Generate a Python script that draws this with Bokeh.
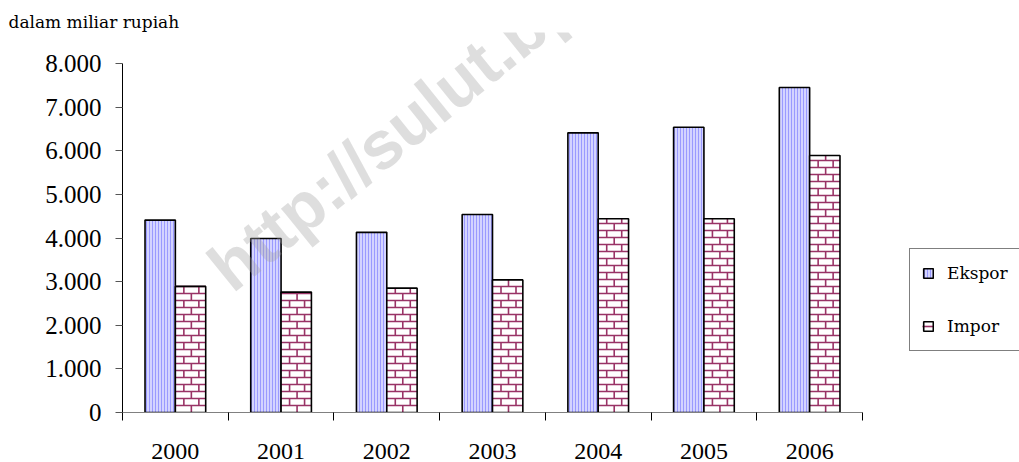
import numpy as np
from bokeh.plotting import figure
from bokeh.models import (Range1d, FixedTicker, Legend, LegendItem, Label, Title,
                          ColumnDataSource)
from bokeh.embed import file_html
from bokeh.resources import INLINE

# ---- data ----
years = ["2000", "2001", "2002", "2003", "2004", "2005", "2006"]
ekspor = [4410, 3990, 4130, 4540, 6410, 6540, 7450]
impor = [2890, 2760, 2850, 3040, 4440, 4440, 5890]
y_ticks = [0, 1000, 2000, 3000, 4000, 5000, 6000, 7000, 8000]
y_tick_labels = ["0", "1.000", "2.000", "3.000", "4.000", "5.000", "6.000", "7.000", "8.000"]
series_names = ["Ekspor", "Impor"]
unit_text = "dalam miliar rupiah"
watermark_text = "http://sulut.bps.go.id"

FONT = "Liberation Serif"
ANNOT_FONT = "DejaVu Serif"

# layout (pixels)
W, H = 1019, 462
LEFT, TOP, BOTTOM = 122, 32, 50
AX_RIGHT = 862          # where the category axis ends
Y_TOP_PX = 63           # pixel row of the 8.000 tick

n = len(years)
frame_w = W - LEFT
frame_h = H - TOP - BOTTOM
px_per_cat = (AX_RIGHT - LEFT) / n
x_end = frame_w / px_per_cat
y_max = y_ticks[-1]
px_per_unit = (H - BOTTOM - Y_TOP_PX) / y_max
y_end = frame_h / px_per_unit

idx = np.arange(n)
centers = idx + 0.5
bar_w = 0.287

x_e = centers - bar_w / 2
x_i = centers + bar_w / 2
src = ColumnDataSource(dict(x_e=x_e, x_i=x_i, ekspor=ekspor, impor=impor))

# brick pattern for the Impor bars, derived from each bar's extent
row_h = 7 / px_per_unit          # brick height in data units
brick_w = 15 / px_per_cat        # brick width in x units
offs = [16 / px_per_cat, 8.5 / px_per_cat]
bx0, by0, bx1, by1 = [], [], [], []
for xc, top in zip(x_i, impor):
    xl, xr = xc - bar_w / 2, xc + bar_w / 2
    k = 0
    while k * row_h < top:
        y0 = k * row_h
        y1 = min((k + 1) * row_h, top)
        if k > 0:
            bx0.append(xl); bx1.append(xr); by0.append(y0); by1.append(y0)
        xv = xl + offs[k % 2]
        while xv < xr - 1.5 / px_per_cat:
            bx0.append(xv); bx1.append(xv); by0.append(y0); by1.append(y1)
            xv += brick_w
        k += 1
brick_src = ColumnDataSource(dict(x0=bx0, y0=by0, x1=bx1, y1=by1))

title = Title(text=unit_text, text_font=ANNOT_FONT, text_font_size="17px",
              text_font_style="normal", text_color="black", align="left",
              offset=8 - LEFT, standoff=2)

p = figure(width=W, height=H, output_backend="svg", toolbar_location=None,
           x_range=Range1d(0, x_end), y_range=Range1d(0, y_end),
           min_border_left=LEFT, min_border_right=0, min_border_top=TOP,
           min_border_bottom=BOTTOM, title=title)
p.outline_line_color = None
p.xgrid.grid_line_color = None
p.ygrid.grid_line_color = None
p.background_fill_color = "white"
p.border_fill_color = "white"

r_e = p.vbar(x="x_e", top="ekspor", width=bar_w, bottom=0, source=src,
             fill_color="#d4d4ff", line_color="black", line_width=1.6,
             hatch_pattern="vertical_line", hatch_color="#9a9aff",
             hatch_scale=3, hatch_weight=1)
r_i_fill = p.vbar(x="x_i", top="impor", width=bar_w, bottom=0, source=src,
                  fill_color="white", line_color=None)
r_i_brick = p.segment(x0="x0", y0="y0", x1="x1", y1="y1", source=brick_src,
                      line_color="#993366", line_width=1.6)
r_i = p.vbar(x="x_i", top="impor", width=bar_w, bottom=0, source=src,
             fill_color=None, line_color="black", line_width=1.6)

# y axis
ya = p.yaxis[0]
ya.bounds = (0, y_max)
ya.ticker = FixedTicker(ticks=y_ticks, minor_ticks=[])
ya.major_label_overrides = {t: l for t, l in zip(y_ticks, y_tick_labels)}
ya.major_label_text_font = FONT
ya.major_label_text_font_size = "25px"
ya.major_label_text_color = "black"
ya.axis_line_color = "black"
ya.axis_line_width = 1
ya.major_tick_line_color = "#555555"
ya.major_tick_out = 7
ya.major_tick_in = 0
ya.minor_tick_line_color = None
ya.major_label_standoff = 14

# x axis: labels at centres, ticks at category boundaries (minor ticks)
xa = p.xaxis[0]
xa.bounds = (0, n)
xa.ticker = FixedTicker(ticks=list(centers), minor_ticks=list(np.arange(n + 1)))
xa.major_label_overrides = {float(c): y for c, y in zip(centers, years)}
xa.major_label_text_font = FONT
xa.major_label_text_font_size = "24px"
xa.major_label_text_color = "black"
xa.axis_line_color = "#808080"
xa.axis_line_width = 1.2
xa.major_tick_out = 0
xa.major_tick_in = 0
xa.major_tick_line_color = None
xa.minor_tick_out = 8
xa.minor_tick_in = 0
xa.minor_tick_line_color = "black"
xa.major_label_standoff = 23

legend = Legend(items=[LegendItem(label=series_names[0], renderers=[r_e]),
                       LegendItem(label=series_names[1], renderers=[r_i_fill, r_i_brick, r_i])],
                location=(909 - LEFT, 61),
                label_text_font=ANNOT_FONT, label_text_font_size="17px",
                label_text_color="black")
legend.glyph_width = 12
legend.glyph_height = 12
legend.label_height = 24
legend.label_width = 110
legend.spacing = 29
legend.padding = 12
legend.margin = 0
legend.label_standoff = 13
legend.border_line_color = "black"
legend.border_line_width = 1
legend.background_fill_color = "white"
legend.background_fill_alpha = 1
p.add_layout(legend, "center")

p.add_layout(Label(x=95, y=137, x_units="screen", y_units="screen", text=watermark_text,
                   angle=0.68, text_font="Liberation Sans", text_font_style="bold",
                   text_font_size="68px", text_color="#a0a0a0", text_alpha=0.35,
                   text_baseline="alphabetic"))

open("out.html", "w").write(file_html(p, INLINE))
